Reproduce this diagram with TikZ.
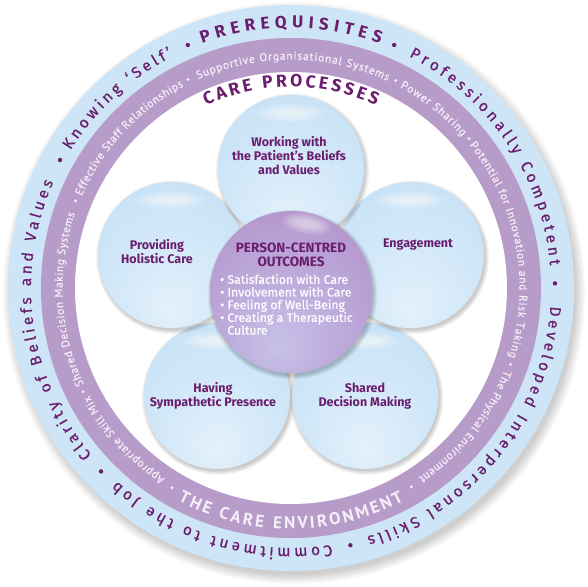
\documentclass[tikz,border=0pt]{standalone}
\usepackage{fontspec}
\setmainfont{Fira Sans}
\newfontfamily\ringfont{PT Sans}
\newfontfamily\medfont[FakeBold=0.6]{Fira Sans}
\newfontfamily\ringmed[FakeBold=0.4]{PT Sans}
\usetikzlibrary{decorations.text,calc}
\definecolor{ringblue}{HTML}{CDE5F6}
\definecolor{ringpurple}{HTML}{B79CCA}
\definecolor{dpurple}{HTML}{6B1E6E}
\definecolor{ringwhite}{HTML}{F5EFF8}
\definecolor{petalbase}{HTML}{C4DFF4}
\definecolor{petalmid}{HTML}{D0E7F8}
\definecolor{petallight}{HTML}{E4F1FB}
\definecolor{cpurple}{HTML}{B08CC4}
\definecolor{cmid}{HTML}{BAA3D6}
\definecolor{clight}{HTML}{C7C1E9}
\pgfdeclareradialshading{petalshade}{\pgfpoint{0bp}{-20bp}}{%
  color(0bp)=(petallight); color(22bp)=(petalmid); color(40bp)=(petalbase); color(55bp)=(petalbase)}
\pgfdeclareradialshading{centershade}{\pgfpoint{-4bp}{-18bp}}{%
  color(0bp)=(clight); color(24bp)=(cmid); color(42bp)=(cpurple); color(55bp)=(cpurple)}
\newcommand\arctext[5]{%
  \path[decorate,decoration={text along path,text align={fit to path},text={|#4|#5}}]
    (#2:#1) arc[start angle=#2,end angle=#3,radius=#1];}
\newcommand\petaldraw[1]{%
  \foreach \k in {1,...,6}{\fill[black,opacity=0.035] ($(#1)+(1.6,-2.2)$) circle ({72+\k*0.8});}
  \shade[shading=petalshade] (#1) circle (73);
  \foreach \k in {1,...,6}{\fill[white,opacity=0.12] ($(#1)+(0,55)$) ellipse ({38-\k*4} and {10-\k*1.2});}
}
\tikzset{
  ptext/.style={text=dpurple,font=\bfseries\fontsize{12.5}{14}\selectfont,align=center,inner sep=0pt},
}
\begin{document}
\begin{tikzpicture}[x=1pt,y=1pt]
\useasboundingbox (-291,-298) rectangle (297,288);
\fill[white] (-291,-298) rectangle (297,288);
% drop shadow of the disc
\foreach \k in {0,...,7}{\fill[black,opacity=0.025] (3,-5) circle ({282+\k*1.3});}
% rings
\fill[ringblue] (0,0) circle (283);
\fill[ringpurple] (0,0) circle (250);
\fill[white] (0,0) circle (216);
% petal centres
\coordinate (P1) at (0,120);
\coordinate (P2) at (-119.8,32.9);
\coordinate (P3) at (119.8,32.9);
\coordinate (P4) at (-74.1,-107.9);
\coordinate (P5) at (74.1,-107.9);
\coordinate (PC) at (0,-4);
\petaldraw{P4}
\petaldraw{P5}
\petaldraw{P2}
\petaldraw{P3}
\petaldraw{P1}
% centre
\foreach \k in {1,...,6}{\fill[black,opacity=0.04] ($(PC)+(1.5,-2.5)$) circle ({80+\k*0.8});}
\shade[shading=centershade] (PC) circle (81);
\foreach \k in {1,...,6}{\fill[white,opacity=0.1,rotate around={-10:(16,64)}] (16,64) ellipse ({28-\k*3} and {11.5-\k*1.4});}
% petal texts
\node[ptext] (t1) at (-2,132) {Working with\\the Patient’s Beliefs\\and Values};
\node[ptext] (t2) at (-134,36.5) {Providing\\Holistic Care};
\node[ptext] (t3) at (127,43) {Engagement};
\node[ptext] (t4) at (-78,-108) {Having\\Sympathetic Presence};
\node[ptext] (t5) at (74,-108) {Shared\\Decision Making};
% centre texts
\node[ptext,font=\bfseries\fontsize{13.5}{14.5}\selectfont] (ct) at (0,33) {PERSON-CENTRED\\OUTCOMES};
\node[text=white,font=\medfont\fontsize{12.3}{12.7}\selectfont,align=left,anchor=north west,inner sep=0pt] (cl) at (-71,14)
  {• Satisfaction with Care\\• Involvement with Care\\• Feeling of Well-Being\\• Creating a Therapeutic\\\phantom{• }Culture};
% outer ring text
\arctext{260}{110}{70}{\bfseries\fontsize{17}{17}\selectfont\color{dpurple}}{PREREQUISITES}
\arctext{260}{63}{5}{\medfont\fontsize{15.5}{15.5}\selectfont\color{dpurple}}{Professionally Competent}
\arctext{260}{-4}{-73}{\medfont\fontsize{15.5}{15.5}\selectfont\color{dpurple}}{Developed Interpersonal Skills}
\arctext{260}{-81}{-132}{\medfont\fontsize{15.5}{15.5}\selectfont\color{dpurple}}{Commitment to the Job}
\arctext{260}{-140}{-204}{\medfont\fontsize{15.5}{15.5}\selectfont\color{dpurple}}{Clarity of Beliefs and Values}
\arctext{260}{-212}{-243}{\medfont\fontsize{15.5}{15.5}\selectfont\color{dpurple}}{Knowing ‘Self’}
\foreach \a in {67,1,-77,-136,151,113}{\fill[dpurple] (\a:264) circle (2.2);}
% purple ring text
\arctext{228.5}{114}{65}{\ringmed\fontsize{11.3}{11.3}\selectfont\color{ringwhite}}{Supportive Organisational Systems}
\arctext{228.5}{61.5}{41.5}{\ringmed\fontsize{11.3}{11.3}\selectfont\color{ringwhite}}{Power Sharing}
\arctext{228.5}{38.7}{-17.5}{\ringmed\fontsize{11.3}{11.3}\selectfont\color{ringwhite}}{Potential for Innovation and Risk Taking}
\arctext{228.5}{-21}{-56}{\ringmed\fontsize{11.3}{11.3}\selectfont\color{ringwhite}}{The Physical Environment}
\arctext{228.5}{-123.5}{-152}{\ringmed\fontsize{11.3}{11.3}\selectfont\color{ringwhite}}{Appropriate Skill Mix}
\arctext{228.5}{-155}{-199}{\ringmed\fontsize{11.3}{11.3}\selectfont\color{ringwhite}}{Shared Decision Making Systems}
\arctext{228.5}{156.3}{118}{\ringmed\fontsize{11.3}{11.3}\selectfont\color{ringwhite}}{Effective Staff Relationships}
\arctext{241}{-118}{-62}{\ringfont\bfseries\fontsize{17}{17}\selectfont\color{ringwhite}}{THE CARE ENVIRONMENT}
\foreach \a in {116.3,63.2,40,-19.2,-58.8,-120.8,-153.5,158}{\fill[ringwhite] (\a:232.5) circle (1.6);}
% care processes
\arctext{201}{115}{65}{\bfseries\fontsize{17.5}{17.5}\selectfont\color{dpurple}}{CARE PROCESSES}
\end{tikzpicture}
\end{document}
